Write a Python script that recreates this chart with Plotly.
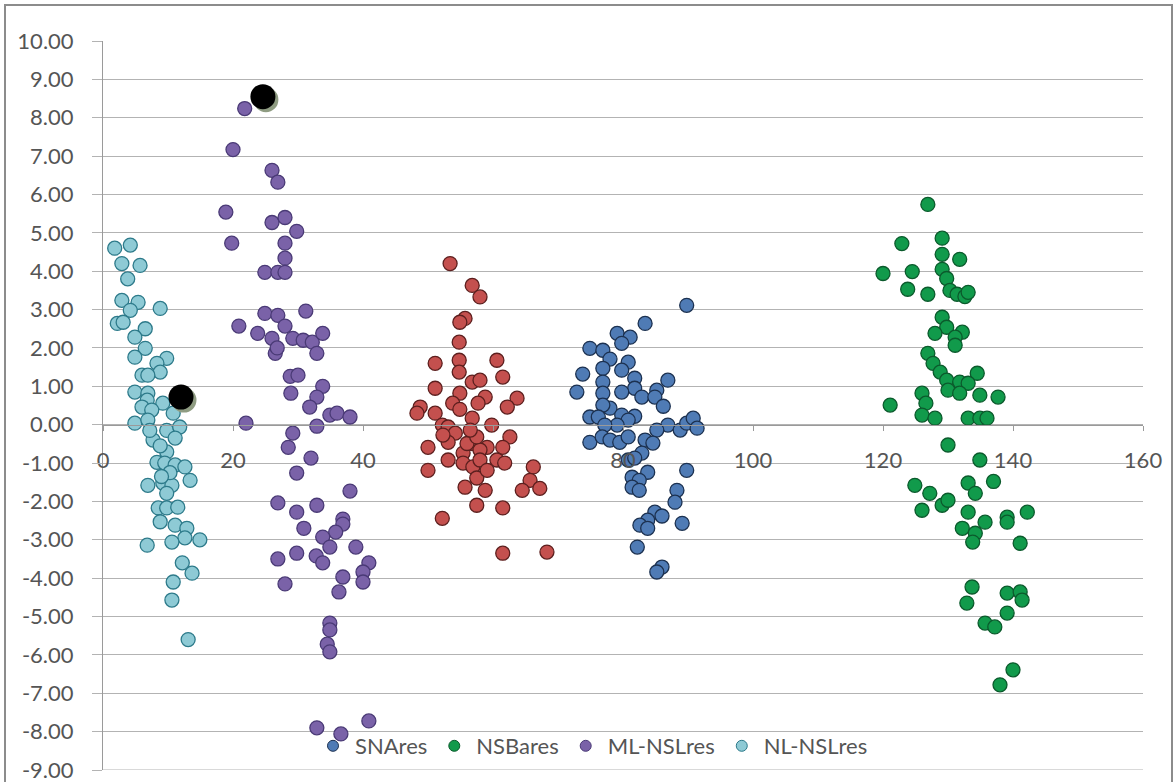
import plotly.graph_objects as go
import numpy as np

# ---------------- data ----------------
nl_x = [1.8,4.2,2.9,5.7,3.8,2.9,5.4,4.2,8.8,2.2,3.1,6.5,4.9,6.5,4.9,9.8,8.3,8.8,6.0,6.9,
        4.9,6.9,9.2,6.8,6.0,7.5,4.9,6.9,10.8,9.8,11.8,7.7,11.1,9.8,8.3,9.5,11.1,12.6,6.9,9.2,
        10.6,13.4,9.8,8.5,9.8,11.5,8.8,11.1,12.9,12.6,10.6,14.9,6.8,12.2,13.7,10.8,10.6,13.1,
        8.8,10.3,9.0,7.2]
nl_y = [4.60,4.68,4.20,4.15,3.80,3.24,3.19,2.98,3.03,2.64,2.67,2.50,2.28,1.99,1.76,1.73,1.60,1.37,1.29,1.29,
        0.85,0.82,0.56,0.64,0.46,0.38,0.04,0.12,0.30,-0.15,-0.06,-0.40,-0.35,-0.71,-0.98,-1.00,-1.05,-1.10,-1.58,-1.52,
        -1.58,-1.45,-1.79,-2.17,-2.17,-2.15,-2.53,-2.62,-2.70,-2.95,-3.06,-3.00,-3.14,-3.60,-3.87,-4.10,-4.57,-5.60,
        -0.55,-1.25,-1.35,-0.15]

ml_x = [21.8,20.0,26.0,26.9,18.9,26.0,28.0,29.8,19.8,28.0,28.0,24.9,26.9,28.0,24.9,26.9,31.2,20.9,23.8,28.0,
        26.0,29.2,30.8,32.2,33.8,26.5,26.8,32.9,28.8,30.0,33.8,28.9,32.9,31.8,34.9,36.0,38.0,22.0,32.9,29.2,
        28.5,32.0,29.8,38.0,26.9,32.9,29.8,30.9,36.9,36.9,35.8,33.8,34.9,38.9,29.8,26.9,32.8,33.8,40.9,40.0,
        36.9,40.0,28.0,36.3,34.9,34.9,34.5,34.9,32.9,36.6,40.9]
ml_y = [8.24,7.17,6.63,6.32,5.54,5.27,5.40,5.04,4.73,4.73,4.34,3.97,3.97,3.97,2.90,2.85,2.96,2.57,2.38,2.57,
        2.25,2.25,2.20,2.15,2.38,1.86,2.00,1.86,1.26,1.29,1.00,0.82,0.72,0.46,0.25,0.30,0.20,0.04,-0.04,-0.22,
        -0.59,-0.87,-1.26,-1.73,-2.04,-2.10,-2.28,-2.70,-2.46,-2.59,-2.80,-2.93,-3.19,-3.19,-3.35,-3.50,-3.42,-3.60,-3.60,-3.84,
        -3.97,-4.10,-4.15,-4.36,-5.17,-5.35,-5.72,-5.92,-7.90,-8.06,-7.72]

red_x = [53.4,56.8,58.0,55.7,54.9,54.8,51.1,54.8,54.8,60.6,61.5,56.8,58.0,51.1,54.9,58.8,63.7,62.2,53.8,54.9,
         57.7,48.8,48.3,51.1,56.8,59.8,52.2,53.1,54.2,62.6,50.0,53.1,56.8,59.1,61.5,58.0,55.4,53.1,55.4,60.6,
         61.8,56.9,58.0,66.2,50.0,57.5,65.7,55.7,58.8,64.5,67.2,57.5,61.5,52.2,61.5,68.3,56.0,57.5,52.3,56.5,59.1]
red_y = [4.20,3.63,3.33,2.77,2.67,2.15,1.60,1.68,1.37,1.68,1.24,1.11,1.16,0.95,0.82,0.72,0.69,0.46,0.56,0.40,
         0.56,0.46,0.30,0.30,0.17,-0.01,-0.01,-0.06,-0.22,-0.32,-0.59,-0.46,-0.49,-0.59,-0.59,-0.66,-0.74,-0.92,-1.00,-0.92,
         -1.00,-1.10,-0.92,-1.10,-1.19,-1.39,-1.45,-1.63,-1.71,-1.71,-1.66,-2.10,-2.17,-2.44,-3.35,-3.32,-0.49,-0.32,-0.27,-0.14,-1.19]

sna_x = [89.8,83.4,79.1,81.1,79.8,74.9,76.9,78.0,80.8,76.9,79.8,73.8,81.8,86.9,76.9,81.8,72.9,85.2,76.9,79.8,
         82.9,84.9,86.2,78.0,76.9,74.9,76.2,79.8,81.8,80.8,79.1,77.2,86.9,88.8,89.8,90.8,91.4,85.2,83.4,84.6,
         74.9,76.8,78.0,79.5,80.8,82.9,80.8,81.8,89.8,83.8,81.4,82.5,81.4,82.5,88.3,88.0,84.9,86.0,89.1,83.8,
         82.6,83.8,82.2,86.0,85.2]
sna_y = [3.11,2.64,2.38,2.28,2.12,1.99,1.94,1.71,1.63,1.47,1.42,1.32,1.21,1.16,1.11,0.95,0.85,0.90,0.82,0.85,
         0.72,0.72,0.48,0.43,0.51,0.20,0.20,0.25,0.22,0.12,-0.01,-0.01,-0.01,-0.14,0.04,0.17,-0.09,-0.14,-0.40,-0.48,
         -0.46,-0.32,-0.40,-0.46,-0.32,-0.74,-0.92,-0.87,-1.19,-1.24,-1.37,-1.45,-1.63,-1.71,-1.71,-2.02,-2.28,-2.38,-2.57,-2.49,
         -2.62,-2.70,-3.19,-3.71,-3.84]

nsb_x = [126.9,122.9,129.1,129.1,131.8,120.0,124.5,129.1,129.8,123.8,126.9,130.3,131.4,132.6,133.1,129.1,129.8,128.0,132.2,131.1,
         131.1,126.9,127.7,128.8,134.5,129.8,131.8,133.1,130.0,131.8,126.0,134.9,137.7,121.1,126.6,126.0,128.0,133.1,134.9,136.0,
         130.0,134.9,137.0,124.9,133.1,127.2,134.2,126.0,129.1,130.0,133.1,132.2,135.7,139.1,139.1,142.2,134.2,133.8,141.1,133.7,
         132.9,139.1,141.1,141.4,139.1,135.7,137.2,140.0,138.0]
nsb_y = [5.74,4.72,4.86,4.44,4.31,3.94,3.99,4.05,3.81,3.53,3.40,3.50,3.40,3.34,3.45,2.80,2.54,2.38,2.41,2.28,
         2.07,1.86,1.60,1.37,1.34,1.16,1.11,1.08,0.90,0.82,0.82,0.77,0.72,0.51,0.56,0.25,0.17,0.17,0.17,0.17,
         -0.53,-0.92,-1.48,-1.58,-1.52,-1.79,-1.79,-2.23,-2.10,-1.97,-2.28,-2.70,-2.54,-2.41,-2.54,-2.28,-2.83,-3.06,-3.09,-4.23,
         -4.65,-4.39,-4.36,-4.57,-4.91,-5.17,-5.27,-6.39,-6.78]

hl_x = [24.6, 12.0]
hl_y = [8.55, 0.72]

y_ticks = list(range(-9, 11))
y_tick_text = [f"{v:.2f}" for v in y_ticks]
x_ticks = [0, 20, 40, 60, 80, 100, 120, 140, 160]
x_tick_text = ["0", "20", "40", "", "80", "100", "120", "140", "160"]

XMIN, XMAX = 0, 160
YMIN, YMAX = -9, 10

# ---------------- figure ----------------
W, H = 1176, 782
ML, MR, MT, MB = 103, 33, 41, 12
PW, PH = W - ML - MR, H - MT - MB

FONT = "Lato"
TXT = "#555555"
GRID = "#b3b3b3"
FS = 22
MS = 14

def series(x, y, fill, line, name):
    return go.Scatter(x=x, y=y, mode="markers", name=name, showlegend=False,
                      marker=dict(size=MS, color=fill, line=dict(color=line, width=1.3)),
                      hoverinfo="skip")

fig = go.Figure()
fig.add_trace(series(red_x, red_y, "#c4504e", "#5c1f1e", "Series5"))
fig.add_trace(series(sna_x, sna_y, "#4f7bb5", "#1c3150", "SNAres"))
fig.add_trace(series(nsb_x, nsb_y, "#119a4b", "#0b5a2c", "NSBares"))
fig.add_trace(series(ml_x, ml_y, "#7a62a8", "#4a3a76", "ML-NSLres"))
fig.add_trace(series(nl_x, nl_y, "#8ecad5", "#2d7a8a", "NL-NSLres"))

# highlighted points with shadow
dx = 3 / PW * (XMAX - XMIN)
dy = 3 / PH * (YMAX - YMIN)
fig.add_trace(go.Scatter(x=np.array(hl_x) + dx, y=np.array(hl_y) - dy, mode="markers",
                         showlegend=False, hoverinfo="skip",
                         marker=dict(size=25, color="#8f9c82")))
fig.add_trace(go.Scatter(x=hl_x, y=hl_y, mode="markers", showlegend=False, hoverinfo="skip",
                         marker=dict(size=25, color="#000000")))

# legend entries
for name, fill, line in [("SNAres", "#4f7bb5", "#1c3150"), ("NSBares", "#119a4b", "#0b5a2c"),
                         ("ML-NSLres", "#7a62a8", "#4a3a76"), ("NL-NSLres", "#8ecad5", "#2d7a8a")]:
    fig.add_trace(go.Scatter(x=[None], y=[None], mode="markers", name=name,
                             marker=dict(size=11, color=fill, line=dict(color=line, width=1))))

fig.update_layout(
    width=W, height=H,
    margin=dict(l=ML, r=MR, t=MT, b=MB, autoexpand=False),
    paper_bgcolor="white", plot_bgcolor="white",
    font=dict(family=FONT, size=FS, color=TXT),
    showlegend=True,
    legend=dict(orientation="h", x=(592 - ML) / PW, y=(H - MB - 746) / PH, xanchor="center", yanchor="middle",
                bgcolor="rgba(0,0,0,0)", font=dict(size=FS, color=TXT),
                itemwidth=34, tracegroupgap=0),
    xaxis=dict(range=[XMIN, XMAX], tickvals=x_ticks, ticktext=x_tick_text,
               showgrid=False, zeroline=False, showline=True, linecolor="#9a9a9a", linewidth=1,
               ticks="outside", ticklen=5, tickcolor="#9a9a9a", automargin=False,
               anchor="free", position=(0 - YMIN) / (YMAX - YMIN),
               ticklabelstandoff=11, tickfont=dict(size=FS, color=TXT)),
    yaxis=dict(range=[YMIN, YMAX], tickvals=y_ticks, ticktext=y_tick_text,
               showgrid=True, gridcolor=GRID, gridwidth=1, zeroline=False,
               showline=True, linecolor="#9a9a9a", linewidth=1, automargin=False,
               ticks="outside", ticklen=10, tickcolor=GRID, ticklabeloverflow="allow",
               ticklabelstandoff=14, tickfont=dict(size=FS, color=TXT)),
)

# bottom gridline (at the lower end of the y range)
fig.add_shape(type="line", xref="x", yref="y", x0=XMIN, x1=XMAX, y0=YMIN, y1=YMIN,
              line=dict(color=GRID, width=1), layer="below")

# chart-area border
fig.add_shape(type="rect", xref="paper", yref="paper",
              x0=(5 - ML) / PW, x1=(W - 4 - ML) / PW,
              y0=(H - MB - (H + 5)) / PH, y1=(H - MB - 5) / PH,
              line=dict(color="#8c8c8c", width=2), layer="below")

fig.write_html("out.html", config={"displayModeBar": False},
               post_script="document.body.style.margin='0';")
